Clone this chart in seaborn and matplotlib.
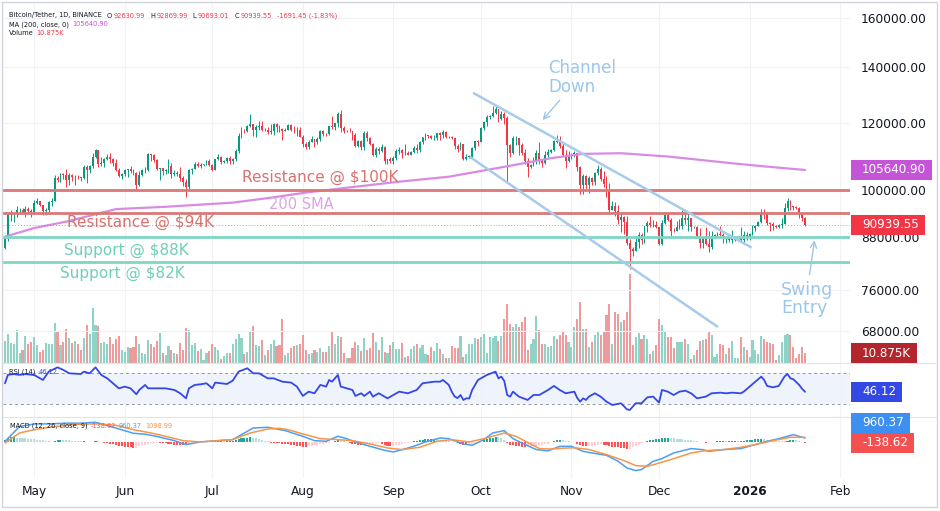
import numpy as np
import pandas as pd
import matplotlib
matplotlib.use("Agg")
import matplotlib.pyplot as plt
import matplotlib.dates as mdates
from matplotlib.patches import Rectangle
from matplotlib.lines import Line2D
from matplotlib.ticker import NullLocator
import seaborn as sns

# ------------------------------------------------------------
# BTC/USDT daily candles, 2025-04-21 .. 2026-01-20 (prices in K USD)
# ------------------------------------------------------------
START = "2025-04-21"
OPEN_FIRST = 85.2

CLOSE_APR = [87.5, 93.4, 93.7, 93.9, 94.6, 94.6, 93.8, 95.0, 94.3, 94.2]
HIGH_APR = [88.5, 93.9, 94.7, 94.0, 95.8, 95.3, 95.2, 95.6, 95.5, 95.0]
LOW_APR = [85.1, 87.0, 91.8, 91.7, 92.9, 93.9, 93.6, 92.9, 93.9, 92.9]

CLOSE_MAY = [96.5, 96.9, 95.9, 94.3, 94.7, 96.8, 97.0, 103.2, 102.9, 104.6,
             104.1, 102.8, 104.1, 103.5, 103.7, 103.5, 103.2, 106.5, 105.6, 106.8,
             109.6, 111.7, 107.3, 107.8, 109.0, 109.4, 108.9, 107.8, 105.6, 103.9, 104.6]
HIGH_MAY = [97.4, 97.9, 97.0, 96.0, 95.2, 97.0, 97.7, 104.1, 103.8, 104.9,
            104.9, 105.8, 104.8, 104.4, 104.2, 104.1, 103.7, 107.1, 107.1, 107.1,
            110.8, 111.9, 111.3, 109.6, 109.3, 110.4, 110.7, 109.3, 108.9, 106.3, 104.9]
LOW_MAY = [94.1, 96.3, 95.7, 93.5, 93.5, 94.2, 95.7, 96.9, 102.3, 102.3,
           103.0, 100.8, 101.4, 102.6, 101.4, 103.1, 102.6, 103.1, 102.0, 104.9,
           106.1, 109.3, 106.6, 106.9, 106.5, 108.6, 107.6, 106.8, 105.3, 103.6, 103.1]

CLOSE_JUN = [105.6, 105.8, 105.4, 104.7, 101.5, 104.3, 105.6, 105.7, 110.3, 110.2,
             108.6, 105.9, 106.1, 105.4, 105.6, 106.8, 104.6, 104.9, 104.6, 103.3,
             102.1, 100.9, 105.5, 106.0, 107.3, 106.9, 107.1, 107.3, 108.4, 107.1]
HIGH_JUN = [105.9, 105.9, 106.8, 106.0, 105.0, 105.3, 105.9, 106.5, 110.6, 110.4,
            110.4, 108.9, 106.2, 106.1, 106.0, 108.9, 107.8, 105.6, 105.3, 106.5,
            104.0, 103.1, 106.0, 106.3, 108.0, 108.0, 107.8, 107.5, 108.5, 108.8]
LOW_JUN = [103.8, 103.7, 104.9, 104.1, 100.4, 101.1, 103.9, 104.9, 105.3, 108.3,
           108.1, 105.6, 102.8, 104.2, 104.5, 104.9, 103.4, 103.8, 103.8, 102.4,
           101.2, 98.2, 99.6, 104.6, 105.8, 106.6, 106.1, 106.9, 107.2, 106.8]

CLOSE_JUL = [105.7, 108.8, 109.6, 108.0, 108.2, 109.2, 108.2, 108.9, 111.3, 115.9,
             117.5, 117.4, 119.1, 119.8, 117.7, 118.7, 119.2, 117.9, 117.9, 117.3,
             117.4, 119.9, 118.7, 118.3, 117.6, 117.9, 119.4, 118.0, 117.8, 117.8, 115.7]
HIGH_JUL = [107.5, 109.0, 110.5, 109.8, 108.5, 109.5, 109.8, 109.2, 111.9, 116.8,
            118.9, 118.2, 119.5, 123.2, 119.9, 119.6, 120.9, 120.9, 118.5, 118.9,
            119.7, 120.2, 120.0, 119.5, 118.5, 118.5, 119.8, 119.8, 119.3, 118.8, 118.9]
LOW_JUL = [105.3, 105.6, 108.6, 107.3, 107.8, 107.8, 107.5, 107.4, 108.3, 110.8,
           115.2, 116.9, 117.3, 118.9, 116.0, 115.7, 117.7, 117.4, 117.5, 116.5,
           116.6, 116.2, 117.3, 117.1, 114.7, 117.4, 117.9, 117.5, 116.9, 115.8, 115.5]

CLOSE_AUG = [113.3, 112.5, 114.2, 115.0, 114.1, 115.0, 117.5, 116.7, 116.5, 119.3,
             118.7, 120.2, 123.3, 118.4, 117.4, 117.5, 117.4, 116.2, 112.9, 114.3,
             112.5, 116.9, 115.4, 113.5, 110.1, 111.8, 111.3, 112.6, 108.4, 108.8, 108.2]
HIGH_AUG = [116.1, 114.0, 114.7, 115.8, 115.1, 115.7, 117.7, 117.9, 117.0, 119.3,
            122.3, 120.3, 123.7, 124.5, 119.3, 118.0, 118.6, 117.6, 116.8, 114.6,
            114.8, 117.4, 117.4, 115.6, 113.7, 112.4, 112.4, 113.5, 112.7, 108.9, 109.5]
LOW_AUG = [112.5, 112.0, 111.9, 114.0, 112.6, 113.4, 114.3, 115.8, 116.0, 116.4,
           118.1, 118.0, 118.9, 117.2, 116.8, 117.2, 117.2, 114.7, 112.6, 112.4,
           111.7, 111.6, 114.5, 113.0, 109.7, 109.4, 110.4, 110.9, 107.4, 107.3, 107.8]

CLOSE_SEP = [109.2, 111.2, 111.7, 110.7, 110.7, 110.2, 111.1, 112.1, 111.5, 113.9,
             115.5, 116.1, 115.9, 115.3, 115.3, 116.8, 116.4, 117.1, 115.6, 115.7,
             115.2, 112.7, 112.0, 113.3, 109.0, 109.6, 109.6, 112.1, 114.3, 114.0]
HIGH_SEP = [109.9, 111.8, 112.6, 112.0, 113.4, 111.3, 111.4, 112.9, 113.3, 114.3,
            115.6, 116.8, 116.3, 116.1, 116.3, 117.0, 117.3, 117.9, 117.5, 116.0,
            116.0, 115.4, 113.4, 114.0, 113.4, 110.3, 110.0, 112.4, 114.5, 114.8]
LOW_SEP = [107.3, 108.6, 110.5, 109.3, 110.0, 110.0, 110.0, 110.6, 110.6, 111.0,
           113.4, 114.7, 115.4, 114.9, 114.6, 114.8, 114.7, 115.3, 115.2, 115.4,
           115.1, 112.0, 111.1, 111.5, 108.6, 108.6, 109.1, 109.3, 111.6, 112.7]

CLOSE_OCT = [118.6, 120.5, 122.2, 122.4, 123.5, 124.7, 121.4, 123.3, 121.7, 113.2,
             110.6, 115.2, 115.3, 113.0, 110.8, 108.2, 106.4, 107.2, 108.6, 110.6,
             108.4, 107.6, 110.1, 111.0, 111.6, 114.5, 114.1, 112.9, 110.0, 108.3, 109.6]
HIGH_OCT = [118.7, 120.8, 122.9, 122.9, 125.7, 126.2, 124.9, 124.2, 123.8, 122.5,
            113.4, 115.9, 115.9, 115.4, 113.6, 111.8, 109.2, 107.5, 109.4, 111.7,
            114.0, 109.0, 111.3, 112.0, 111.9, 114.8, 116.1, 116.0, 113.6, 111.6, 111.2]
LOW_OCT = [114.0, 117.8, 119.3, 121.6, 122.2, 123.0, 120.6, 121.1, 119.7, 102.0,
           109.6, 110.4, 113.0, 110.2, 110.1, 107.5, 103.5, 106.3, 106.7, 107.4,
           107.3, 106.6, 107.3, 109.6, 110.8, 111.3, 113.8, 112.1, 109.7, 106.3, 108.0]

CLOSE_NOV = [110.1, 110.6, 106.5, 101.5, 103.9, 101.3, 103.3, 102.3, 104.7, 106.0,
             103.0, 101.6, 99.7, 94.6, 95.6, 94.3, 92.2, 92.9, 91.5, 86.6,
             85.1, 84.7, 86.8, 88.3, 87.3, 90.5, 91.3, 90.9, 90.9, 90.4]
HIGH_NOV = [110.6, 111.2, 110.8, 106.9, 104.5, 104.2, 104.0, 103.5, 105.0, 107.0,
            106.6, 105.3, 104.0, 101.9, 97.0, 96.8, 96.0, 93.8, 93.2, 93.0,
            87.5, 85.6, 88.1, 89.2, 88.9, 90.7, 91.9, 93.1, 92.0, 91.9]
LOW_NOV = [109.0, 109.5, 105.3, 98.9, 98.9, 100.3, 99.3, 101.4, 101.5, 104.2,
           102.5, 100.8, 98.0, 94.0, 94.6, 93.0, 91.2, 89.2, 88.6, 86.0,
           80.6, 83.5, 84.6, 85.3, 86.3, 86.5, 89.2, 90.3, 90.3, 90.2]

CLOSE_DEC = [86.3, 91.3, 93.5, 92.1, 89.4, 89.3, 90.4, 90.6, 92.7, 92.0,
             92.5, 90.3, 90.3, 88.2, 86.4, 87.8, 86.2, 85.5, 88.1, 88.3,
             88.6, 88.5, 87.6, 87.7, 87.3, 87.3, 87.8, 87.8, 87.2, 88.5, 87.6]
HIGH_DEC = [90.4, 92.0, 94.2, 94.1, 92.7, 90.2, 91.8, 92.3, 94.6, 94.5,
            93.6, 92.7, 90.6, 90.6, 90.1, 88.2, 90.3, 89.4, 89.3, 88.6,
            89.1, 90.6, 88.9, 88.0, 88.0, 89.5, 88.0, 88.2, 90.3, 89.4, 89.2]
LOW_DEC = [85.9, 86.1, 91.0, 91.9, 88.1, 89.1, 89.3, 89.8, 89.8, 91.2,
           89.4, 89.3, 90.0, 87.6, 85.2, 85.3, 85.9, 84.4, 85.1, 87.7,
           87.9, 88.0, 86.6, 86.4, 86.8, 86.6, 86.9, 87.3, 86.7, 86.8, 87.3]

CLOSE_JAN = [88.7, 90.0, 90.6, 91.5, 93.9, 93.7, 91.3, 91.0, 90.5, 90.4,
             90.8, 91.2, 95.3, 97.0, 95.6, 95.5, 95.1, 93.6, 92.63099, 90.93955]
HIGH_JAN = [88.8, 90.9, 90.9, 91.8, 94.8, 94.8, 93.7, 91.6, 91.6, 90.8,
            91.1, 92.5, 96.5, 97.9, 97.2, 95.8, 95.6, 95.5, 93.7, 92.86999]
LOW_JAN = [87.3, 88.3, 89.3, 90.5, 91.3, 92.3, 90.8, 89.3, 89.6, 90.1,
           90.2, 90.1, 91.0, 94.5, 94.6, 94.6, 94.9, 92.5, 91.9, 90.69301]

CLOSE = (CLOSE_APR + CLOSE_MAY + CLOSE_JUN + CLOSE_JUL + CLOSE_AUG +
         CLOSE_SEP + CLOSE_OCT + CLOSE_NOV + CLOSE_DEC + CLOSE_JAN)
HIGH = (HIGH_APR + HIGH_MAY + HIGH_JUN + HIGH_JUL + HIGH_AUG +
        HIGH_SEP + HIGH_OCT + HIGH_NOV + HIGH_DEC + HIGH_JAN)
LOW = (LOW_APR + LOW_MAY + LOW_JUN + LOW_JUL + LOW_AUG +
       LOW_SEP + LOW_OCT + LOW_NOV + LOW_DEC + LOW_JAN)

# volume, K BTC per day
VOLUME = [
    23.6, 31.9, 21.8, 20.3, 35.6, 10.9, 13.8, 29.4, 20.3, 22.9,
    28.0, 19.2, 12.0, 13.8, 22.1, 20.3, 20.3, 43.6, 34.5, 19.2,
    22.9, 37.4, 27.2, 21.8, 23.6, 20.3, 13.8, 27.2, 41.7, 31.6,
    59.9, 41.7, 40.3, 21.8, 22.9, 20.3, 28.7, 21.1, 26.5, 29.4,
    13.8, 12.0, 17.4, 16.3, 17.4, 29.4, 21.1, 10.5, 9.8, 25.4,
    21.1, 17.1, 24.0, 32.7, 10.5, 8.3, 18.2, 13.8, 11.3, 9.8,
    21.8, 13.8, 37.8, 36.3, 19.2, 21.8, 13.1, 14.9, 3.3, 11.3,
    12.7, 20.3, 17.1, 13.8, 4.4, 7.6, 10.5, 11.3, 21.1, 26.5,
    31.9, 27.6, 10.2, 12.0, 33.4, 40.3, 20.0, 18.5, 24.7, 8.3,
    14.5, 20.3, 24.7, 18.2, 19.2, 47.6, 8.3, 10.9, 16.3, 18.5,
    19.2, 20.3, 30.9, 14.5, 9.4, 11.3, 14.5, 12.0, 16.7, 12.0,
    12.0, 18.2, 33.8, 20.3, 29.4, 28.3, 11.3, 5.1, 5.1, 16.3,
    22.9, 20.0, 13.4, 27.2, 13.8, 16.3, 32.7, 22.9, 13.8, 28.3,
    12.0, 11.3, 19.2, 22.5, 15.6, 15.6, 22.1, 6.2, 7.3, 14.9,
    18.2, 20.3, 16.7, 19.2, 9.8, 8.3, 17.1, 13.1, 21.8, 14.9,
    10.2, 5.8, 5.8, 18.5, 16.3, 16.3,
    29.0, 6.5, 9.8, 21.1, 21.1, 27.2, 26.5, 28.3, 31.9, 10.9,
    28.3, 27.2, 29.4, 23.6, 29.8, 48.3, 64.6, 42.8, 39.2, 42.8,
    39.2, 44.6, 50.1, 14.5, 21.1, 26.5, 51.2, 35.6, 21.1, 21.1,
    17.4, 18.2, 29.4, 26.5, 30.1, 34.8, 30.1, 22.9, 17.4, 39.2,
    48.3, 66.4, 37.4, 37.4, 17.4, 22.9, 30.9, 33.8, 30.1, 33.8,
    52.6, 64.6, 21.1, 55.5, 53.7, 44.6, 46.5, 55.5, 97.0, 19.2,
    28.3, 32.7, 26.5, 30.9, 26.5, 10.2, 12.7, 19.2, 48.3, 41.0,
    34.5, 28.3, 28.3, 16.3, 22.9, 22.9, 22.9, 26.5, 21.1, 4.7,
    8.3, 13.8, 23.6, 24.7, 26.5, 34.5, 30.1, 6.5, 10.2, 21.1,
    19.2, 10.2, 16.3, 23.6, 5.4, 5.4, 28.3, 17.4, 13.8, 6.5,
    24.7, 13.8, 10.2, 29.0, 26.5, 22.9, 21.8, 21.1, 2.9, 8.3,
    22.9, 30.1, 31.9, 30.1, 17.4, 5.4, 10.2, 17.4, 10.875,
]

# MACD histogram, one value per candle
HIST = [
    600, 1000, 1100, 1100, 1050, 1000, 950, 900, 800, 750,
    700, 600, 500, 400, 300, 200, 100, 300, 500, 550,
    500, 450, 400, 350, 300, 250, 200, 200, 150, 100,
    100, 350, 250, 100, -50, -150, -300, -450, -600, -750,
    -850, -950, -1050, -1150, -1250, -1250, -900, -700, -550, -400,
    -250, -150, -100, -150, -200, -250, -400, -450, -500, -550,
    -600, -650, -700, -450, -200, 50, 150, 200, 200, 180,
    150, 200, 250, 300, 300, 250, 250, 300, 350, 500,
    700, 850, 950, 1050, 1100, 1000, 850, 650, 500, 350,
    200, -100, -150, -200, -250, -300, -350, -450, -550, -650,
    -750, -850, -950, -1000, -850, -750, -650, -550, -450, -350,
    -250, -150, 150, 350, 450, 400, 250, 100, -200, -350,
    -450, -500, -550, -450, -400, -350, -300, -250, -250, -450,
    -650, -800, -900, -850, -700, -550, -400, -250, -50, 100,
    200, 350, 450, 550, 650, 700, 800, 800, 700, 550,
    450, 350, 250, 150, 50, -200, -350, -500, -550, -550,
    -500, -350, -150, 100, 400, 650, 850, 1050, 1200, 1150,
    1000, 600, -200, -500, -600, -750, -900, -1000, -1100, -1050,
    -950, -850, -750, -650, -550, -450, -350, 100, 350, 500,
    500, 450, 350, 250, 150, 50, -300, -600, -750, -800,
    -800, -750, -650, -500, -450, -550, -700, -850, -950, -1050,
    -1100, -1200, -1300, -1400, -1400, -1100, -800, -500, -200, 100,
    300, 450, 550, 650, 700, 850, 950, 1000, 950, 900,
    800, 750, 650, 600, 500, 400, 300, 200, 100, 50,
    -100, 50, 100, 150, 200, 200, 250, 200, 250, 250,
    300, 250, 300, 350, 400, 450, 550, 650, 750, 800,
    700, 600, 500, 450, 350, 300, 250, 200, 350, 500,
    500, 450, 300, 100, -138.62,
]

# indicator lines (day offset from START, value)
SMA_DAY = [0, 10, 21, 38, 55, 78, 90, 104, 135, 152, 170, 187, 198, 211, 227, 238, 249, 261, 274]
SMA_VAL = [88.0, 90.1, 91.7, 94.9, 95.5, 96.6, 97.8, 99.4, 102.3, 103.7, 106.4, 109.1,
           110.4, 110.6, 109.6, 108.6, 107.6, 106.6, 105.6409]

RSI_DAY = [0, 1, 3, 5, 7, 10, 13, 15, 18, 20, 22, 26, 27, 29, 31, 33, 35, 37, 39, 41,
           43, 45, 46, 48, 49, 51, 53, 55, 58, 60, 62, 63, 65, 67, 69, 71, 72, 74, 76, 78,
           80, 83, 85, 87, 90, 92, 95, 98, 100, 102, 104, 106, 108, 110, 111, 112, 114, 115, 117, 119,
           120, 122, 123, 125, 126, 128, 131, 133, 135, 138, 141, 143, 147, 149, 150, 152, 153, 154, 155, 156,
           157, 158, 159, 160, 162, 165, 168, 169, 170, 171, 172, 173, 174, 176, 179, 181, 183, 186, 188, 190,
           192, 195, 196, 197, 198, 199, 200, 202, 204, 206, 208, 211, 213, 214, 216, 218, 220, 222, 224, 225,
           227, 229, 231, 233, 235, 237, 240, 242, 245, 247, 249, 252, 253, 255, 257, 259, 260, 261, 263, 265,
           267, 268, 269, 270, 272, 273, 274]
RSI_VAL = [57.1, 68.0, 69.0, 68.0, 69.0, 67.8, 61.4, 72.2, 77.7, 74.3, 70.0, 69.1, 72.2, 70.0, 77.7, 67.8, 63.5, 57.1, 50.6, 52.8,
           50.6, 42.9, 48.5, 55.0, 50.6, 50.6, 50.6, 50.6, 48.5, 44.2, 37.7, 50.6, 55.0, 55.8, 57.1, 50.6, 58.0, 57.1, 56.2, 60.5,
           72.2, 76.5, 70.0, 70.0, 63.5, 63.5, 59.2, 58.0, 52.8, 40.8, 46.3, 44.2, 55.0, 52.8, 61.4, 59.2, 67.8, 52.8, 50.6, 48.5,
           40.8, 44.2, 40.8, 46.3, 39.9, 44.2, 37.7, 42.0, 46.3, 44.2, 48.5, 57.1, 59.2, 59.2, 61.4, 55.0, 46.3, 40.0, 38.0, 42.0,
           35.6, 37.7, 37.5, 48.5, 61.4, 67.8, 72.2, 63.5, 65.7, 60.0, 42.0, 39.9, 46.3, 39.9, 35.6, 42.0, 42.0, 48.5, 53.7, 48.5,
           44.2, 46.3, 38.0, 33.4, 37.7, 35.6, 39.9, 44.2, 39.9, 33.4, 29.1, 31.3, 23.5, 22.7, 31.3, 31.3, 39.0, 39.9, 32.2, 48.5,
           46.3, 42.0, 46.3, 47.6, 44.2, 37.7, 39.9, 44.2, 45.0, 44.2, 45.0, 44.2, 46.3, 52.8, 59.2, 65.7, 61.4, 53.7, 51.9, 53.7,
           66.0, 69.1, 63.5, 62.3, 55.0, 50.0, 46.12]

MACD_DAY = [0, 5, 10, 16, 21, 26, 31, 36, 44, 48, 52, 58, 62, 67, 73, 78, 82, 85, 90, 96,
            102, 106, 110, 114, 117, 120, 125, 130, 133, 136, 140, 144, 149, 152, 157, 160, 164, 167, 171, 174,
            177, 182, 186, 190, 194, 198, 201, 206, 210, 213, 216, 218, 222, 225, 229, 235, 239, 241, 246, 252,
            256, 261, 265, 270, 274]
MACD_VAL = [200, 3500, 4070, 4100, 4250, 4250, 4450, 3550, 2000, 1800, 1300, 370, -520, 100, 370, 600, 2070, 3180, 3330, 2590,
            1330, 370, 220, 1330, 810, 74, -890, -1780, -2150, -1630, -890, 74, 960, 810, -370, -670, 590, 2070, 2590, 810,
            -150, -1630, -1900, -890, -890, -2000, -2370, -2890, -4220, -5700, -6290, -6070, -4220, -3630, -2370, -1400, -1630, -2000, -1630, -1400,
            -670, 220, 810, 1700, 960.37]

SIGNAL_DAY = [0, 5, 10, 15, 21, 27, 33, 38, 44, 50, 55, 61, 67, 73, 78, 84, 90, 94, 97, 102,
              108, 114, 119, 125, 131, 136, 142, 148, 153, 159, 165, 171, 175, 180, 183, 187, 190, 195, 200, 206,
              212, 216, 220, 223, 229, 235, 240, 246, 252, 257, 263, 269, 274]
SIGNAL_VAL = [-150, 2070, 2810, 3330, 3770, 4070, 4070, 3770, 2810, 2070, 1330, 370, 74, 370, 590, 2070, 2960, 3100, 2810, 1850,
              810, 590, 370, -370, -1260, -1630, -1110, 220, 590, 74, 960, 2070, 1330, -370, -1400, -1500, -1350, -1200, -1600, -2740,
              -4070, -5180, -5330, -4810, -3630, -2370, -1850, -1630, -1110, -520, 370, 1110, 1098.99]

# chart drawings: (day offset, price in K)
LEVELS_RES = [100.0, 94.0]
LEVELS_SUP = [88.0, 82.0]
CHANNEL_UPPER = [(160.3, 130.5), (255.7, 85.4)]
CHANNEL_LOWER = [(159.2, 109.5), (244.2, 68.7)]

PRICE_TICKS = [68000, 76000, 88000, 100000, 120000, 140000, 160000]
MONTHS = ["2025-05-01", "2025-06-01", "2025-07-01", "2025-08-01", "2025-09-01",
          "2025-10-01", "2025-11-01", "2025-12-01", "2026-01-01", "2026-02-01"]
MONTH_LABELS = ["May", "Jun", "Jul", "Aug", "Sep", "Oct", "Nov", "Dec", "2026", "Feb"]

n = len(CLOSE)
assert len(HIGH) == n and len(LOW) == n and len(VOLUME) == n and len(HIST) == n

# ------------------------------------------------------------
sns.set_style("white")
plt.rcParams["font.family"] = ["DejaVu Sans"]

UP, DOWN = "#089981", "#f23645"
DARK = "#131722"
W, H = 940, 511

fig = plt.figure(figsize=(W / 100, H / 100), dpi=100)


def rect(x0, y0, x1, y1):
    return [x0 / W, 1 - y1 / H, (x1 - x0) / W, (y1 - y0) / H]


L, R = 3, 850
ax_vol = fig.add_axes(rect(L, 3, R, 363))
ax = fig.add_axes(rect(L, 3, R, 363), sharex=ax_vol)
ax.set_facecolor("none")
ax_rsi = fig.add_axes(rect(L, 363, R, 417), sharex=ax_vol)
ax_macd = fig.add_axes(rect(L, 417, R, 478), sharex=ax_vol)

t0 = mdates.date2num(pd.Timestamp(START))
xs = t0 + np.arange(n)
close = np.array(CLOSE) * 1000
opens = np.concatenate([[OPEN_FIRST * 1000], close[:-1]])
high = np.maximum(np.array(HIGH) * 1000, np.maximum(opens, close))
low = np.minimum(np.array(LOW) * 1000, np.minimum(opens, close))
up = close >= opens
cols = np.where(up, UP, DOWN)

month_x = [mdates.date2num(pd.Timestamp(m)) for m in MONTHS]

for a in (ax_vol, ax, ax_rsi, ax_macd):
    for s in a.spines.values():
        s.set_visible(False)
    a.tick_params(left=False, right=False, bottom=False, top=False,
                  labelleft=False, labelbottom=False)
    a.set_xticks(month_x)
    a.grid(axis="x", color="#f0f2f6", lw=0.8)
ax.grid(axis="x", visible=False)
ax_vol.set_xlim(t0 - 0.68, t0 + 289.4)

# volume
vol_cols = np.where(up, "#8fd3c6", "#ee9b9d")
ax_vol.bar(xs, VOLUME, width=0.72, color=vol_cols, linewidth=0)
ax_vol.set_ylim(0, 392)
ax_vol.set_yticks([])

# price pane
ax.set_yscale("log")
ax.set_ylim(62260, 166890)
ax.yaxis.set_minor_locator(NullLocator())
ax.set_yticks(PRICE_TICKS)
ax.set_yticklabels([f"{v:.2f}" for v in PRICE_TICKS])
ax.yaxis.tick_right()
ax.tick_params(axis="y", right=False, labelright=True, labelsize=8.8,
               labelcolor=DARK, pad=8, length=0)
ax.grid(axis="y", color="#f0f2f6", lw=0.8)

ax.vlines(xs, low, high, colors=cols, lw=0.7, zorder=3)
ax.bar(xs, np.maximum(np.abs(close - opens), 60), bottom=np.minimum(opens, close),
       width=0.64, color=cols, linewidth=0, zorder=4)

sns.lineplot(x=t0 + np.array(SMA_DAY), y=np.array(SMA_VAL) * 1000, ax=ax,
             color="#d98be3", lw=1.6, estimator=None, zorder=5)

for lv in LEVELS_RES:
    ax.axhline(lv * 1000, color="#d87878", lw=2.0, zorder=6)
for lv in LEVELS_SUP:
    ax.axhline(lv * 1000, color="#7fd6c3", lw=2.0, zorder=6)
ax.axhline(close[-1], color=DOWN, lw=0.7, ls=(0, (1, 2)), alpha=0.6, zorder=6)

for pts in (CHANNEL_UPPER, CHANNEL_LOWER):
    ax.plot([t0 + pts[0][0], t0 + pts[1][0]], [pts[0][1] * 1000, pts[1][1] * 1000],
            color="#a7cbea", lw=1.8, zorder=6, solid_capstyle="butt")

BLUE_TXT = "#9cc7e9"
txt_kw = dict(va="center", ha="left", zorder=7)
ax.text(t0 + 81.2, 103600, "Resistance @ $100K", color="#d9726f", fontsize=11, **txt_kw)
ax.text(t0 + 90.4, 96000, "200 SMA", color="#dba4e6", fontsize=10.5, **txt_kw)
ax.text(t0 + 21.2, 91400, "Resistance @ $94K", color="#d9726f", fontsize=11, **txt_kw)
ax.text(t0 + 20.2, 84800, "Support @ $88K", color="#6fcfb9", fontsize=11, **txt_kw)
ax.text(t0 + 18.8, 79500, "Support @ $82K", color="#6fcfb9", fontsize=11, **txt_kw)
ax.text(t0 + 186.0, 136100, "Channel\nDown", color=BLUE_TXT, fontsize=12, linespacing=1.05, **txt_kw)
ax.text(t0 + 265.8, 74100, "Swing\nEntry", color=BLUE_TXT, fontsize=12.5, linespacing=1.0, **txt_kw)
arrow = dict(arrowstyle="->", color=BLUE_TXT, lw=1.0, mutation_scale=11)
ax.annotate("", xy=(t0 + 183.5, 120400), xytext=(t0 + 190.6, 128600), arrowprops=arrow, zorder=7)
ax.annotate("", xy=(t0 + 277.4, 87800), xytext=(t0 + 275.4, 78700), arrowprops=arrow, zorder=7)

# RSI pane
ax_rsi.set_ylim(13.6, 83.3)
ax_rsi.axhspan(30, 70, color="#eef3fc", lw=0, zorder=0)
for lv in (70, 30):
    ax_rsi.axhline(lv, color="#9598a1", lw=0.7, ls=(0, (3, 3)), zorder=1)
sns.lineplot(x=t0 + np.array(RSI_DAY), y=RSI_VAL, ax=ax_rsi, color="#3448e6",
             lw=1.3, estimator=None, zorder=3)
ax_rsi.set_yticks([])

# MACD pane
hist = np.array(HIST, dtype=float)
prev = np.concatenate([[0.0], hist[:-1]])
hcols = np.where(hist >= 0, np.where(hist >= prev, "#26a69a", "#b2dfdb"),
                 np.where(hist < prev, "#ff5252", "#ffcdd2"))
ax_macd.bar(xs, hist, width=0.7, color=hcols, linewidth=0, zorder=2)
sns.lineplot(x=t0 + np.array(MACD_DAY), y=MACD_VAL, ax=ax_macd, color="#4a9ff5",
             lw=1.1, estimator=None, zorder=3)
sns.lineplot(x=t0 + np.array(SIGNAL_DAY), y=SIGNAL_VAL, ax=ax_macd, color="#f5964a",
             lw=1.1, estimator=None, zorder=3)
ax_macd.set_ylim(-7930, 5620)
ax_macd.set_yticks([])
ax_macd.set_xticks(month_x)
ax_macd.set_xticklabels(MONTH_LABELS)
ax_macd.tick_params(axis="x", labelbottom=True, length=0, pad=5, labelsize=8.7, labelcolor=DARK)
ax_macd.get_xticklabels()[8].set_fontweight("bold")
for a in (ax_vol, ax, ax_rsi, ax_macd):
    a.set_xlabel("")
    a.set_ylabel("")
    if a.get_legend():
        a.get_legend().remove()

# ------------------------------------------------------------
renderer = fig.canvas.get_renderer()


def write_parts(x, y, parts, size=4.8):
    for txt, col, gap in parts:
        t = fig.text(x / W, 1 - y / H, txt, color=col, fontsize=size, va="center", ha="left")
        x += t.get_window_extent(renderer=renderer).width + gap


def value_box(y_disp, label, fc):
    t = fig.text(862 / W, y_disp / H, label, color="white", fontsize=8.6,
                 va="center", ha="left", zorder=6)
    bb = t.get_window_extent(renderer=renderer)
    fig.add_artist(Rectangle((851 / W, (y_disp - 10) / H), (bb.x1 + 6 - 851) / W, 20 / H,
                             transform=fig.transFigure, fc=fc, ec="none", zorder=5))


def ydisp(a, v):
    return a.transData.transform((xs[-1], v))[1]


write_parts(9, 15.5, [("Bitcoin/Tether, 1D, BINANCE", DARK, 5), ("O", DARK, 1.6), ("92630.99", DOWN, 5),
                      ("H", DARK, 1.6), ("92869.99", DOWN, 5), ("L", DARK, 1.6), ("90693.01", DOWN, 5),
                      ("C", DARK, 1.6), ("90939.55", DOWN, 5), ("-1691.45 (-1.83%)", DOWN, 0)])
write_parts(9, 24.5, [("MA (200, close, 0)", DARK, 3), ("105640.90", "#c653d8", 0)])
write_parts(9, 33, [("Volume", DARK, 3), ("10.875K", DOWN, 0)])
write_parts(9, 372, [("RSI (14)", DARK, 3), ("46.12", "#3448e6", 0)])
write_parts(10, 425.5, [("MACD (12, 26, close, 9)", DARK, 3), ("-138.62", "#f45b5b", 3),
                        ("960.37", "#4a9ff5", 3), ("1098.99", "#f5964a", 0)])

value_box(ydisp(ax, SMA_VAL[-1] * 1000), "105640.90", "#c455d6")
value_box(ydisp(ax, close[-1]), "90939.55", "#f23645")
value_box(ydisp(ax_vol, VOLUME[-1]), "10.875K", "#b3262d")
value_box(ydisp(ax_rsi, RSI_VAL[-1]), "46.12", "#3448e6")
y_hist = ydisp(ax_macd, HIST[-1])
value_box(y_hist, "-138.62", "#f45050")
value_box(y_hist + 20, "960.37", "#3d8ff0")

for yy in (363, 417):
    fig.add_artist(Line2D([L / W, 937 / W], [1 - yy / H] * 2, color="#e0e3eb", lw=0.8))
fig.add_artist(Rectangle((2 / W, 1 - 507 / H), 935 / W, 505 / H, transform=fig.transFigure,
                         fill=False, ec="#d1d4dc", lw=1.0))

fig.savefig("out.png", dpi=100)
